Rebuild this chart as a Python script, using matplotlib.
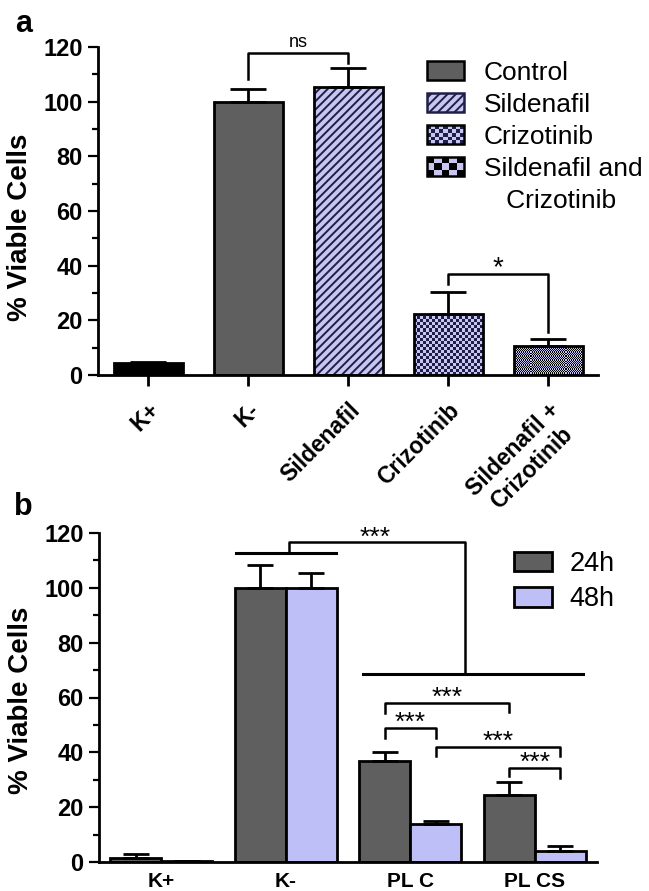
import numpy as np
import matplotlib
matplotlib.use('Agg')
import matplotlib.pyplot as plt
from matplotlib.patches import Patch, Rectangle
from matplotlib.legend_handler import HandlerBase

plt.rcParams['font.family'] = ['Liberation Sans', 'DejaVu Sans']
plt.rcParams['hatch.linewidth'] = 1.4

# ---- panel a data ----
a_labels = ['K+', 'K-', 'Sildenafil', 'Crizotinib', 'Sildenafil +\nCrizotinib']
a_means = [4.5, 100.0, 105.5, 22.5, 10.5]
a_err = [0.4, 4.5, 7.0, 8.0, 2.5]
a_legend = ['Control', 'Sildenafil', 'Crizotinib', 'Sildenafil and\nCrizotinib']
# (x1, x2, top, left foot, right foot, text)
a_brackets = [(1, 2, 117.7, 108.3, 114.0, 'ns'),
              (3, 4, 37.0, 33.3, 15.6, '*')]

# ---- panel b data ----
b_groups = ['K+', 'K-', 'PL C', 'PL CS']
b_24 = [1.5, 100.0, 36.7, 24.6]
b_24_err = [1.3, 8.3, 3.5, 4.7]
b_48 = [0.3, 100.0, 13.8, 4.1]
b_48_err = [0.0, 5.4, 1.2, 1.8]
b_series = ['24h', '48h']
# (bar a, bar b, top, left foot, right foot) ; bar = (group, series)
b_brackets = [((2, 0), (2, 1), 48.9, 45.3, 45.3),
              ((2, 0), (3, 0), 58.1, 54.4, 54.6),
              ((2, 1), (3, 1), 42.1, 38.5, 38.5),
              ((3, 0), (3, 1), 34.4, 31.2, 30.8)]
b_big_left = (0.6, 1.4, 112.8)
b_big_top = (1.03, 2.44, 116.7)
b_big_right = (1.62, 3.39, 68.6)

DARK = '#5f5f5f'
LAV = '#bfbff7'
NAVY = '#1e1e48'
LAV2 = '#c6c6f0'


def checker(ax, bar, cell_px, c1, c2):
    # fill a bar with a checkerboard, clipped to the bar
    x0, y0 = bar.get_x(), bar.get_y()
    x1, y1 = x0 + bar.get_width(), y0 + bar.get_height()
    p0 = ax.transData.transform((x0, y0))
    p1 = ax.transData.transform((x1, y1))
    nx = max(1, int(round(abs(p1[0] - p0[0]) / cell_px)))
    ny = max(1, int(round(abs(p1[1] - p0[1]) / cell_px)))
    grid = (np.add.outer(np.arange(ny), np.arange(nx)) % 2)
    cmap = matplotlib.colors.ListedColormap([c1, c2])
    im = ax.imshow(grid, cmap=cmap, extent=(x0, x1, y0, y1), origin='lower',
                   interpolation='nearest', aspect='auto', zorder=2)
    im.set_clip_path(bar)


class CheckerHandler(HandlerBase):
    def __init__(self, nx, ny, c1, c2):
        super().__init__()
        self.nx, self.ny, self.c1, self.c2 = nx, ny, c1, c2

    def create_artists(self, legend, orig_handle, xdescent, ydescent,
                       width, height, fontsize, trans):
        arts = []
        w = width / self.nx
        h = height / self.ny
        for i in range(self.nx):
            for j in range(self.ny):
                c = self.c1 if (i + j) % 2 == 0 else self.c2
                arts.append(Rectangle((-xdescent + i * w, -ydescent + j * h), w, h,
                                      facecolor=c, edgecolor='none', transform=trans))
        arts.append(Rectangle((-xdescent, -ydescent), width, height, facecolor='none',
                              edgecolor='black', lw=1.8, transform=trans))
        return arts


def style_axes(ax):
    for s in ['top', 'right']:
        ax.spines[s].set_visible(False)
    for s in ['left', 'bottom']:
        ax.spines[s].set_linewidth(2)
    ax.set_ylim(0, 120)
    ax.set_yticks(np.arange(0, 121, 20))
    ax.set_yticks(np.arange(10, 120, 20), minor=True)
    ax.tick_params(axis='y', which='major', length=7, width=1.6, pad=4,
                   labelsize=17)
    ax.tick_params(axis='y', which='minor', length=4.5, width=1.6)
    for t in ax.get_yticklabels():
        t.set_fontweight('bold')
    ax.set_ylabel('% Viable Cells', fontsize=20, fontweight='bold')


fig = plt.figure(figsize=(6.49, 8.91), dpi=100)

# ================= panel a =================
ax = fig.add_axes([98 / 649, 1 - 375 / 891, 500 / 649, 328 / 891])
x = np.arange(len(a_labels))
w = 0.69
bars = ax.bar(x, a_means, width=w, color='none', edgecolor='none', zorder=2)
# individual fills
bars[0].set_facecolor('black')
bars[1].set_facecolor(DARK)
bars[2].set_facecolor(LAV2)
bars[2].set_hatch('////')
bars[2].set_edgecolor(NAVY)
bars[2].set_linewidth(0)
checker(ax, bars[3], 3.0, NAVY, LAV2)
checker(ax, bars[4], 7.0, 'black', LAV2)
ax.bar(x, a_means, width=w, color='none', edgecolor='black', linewidth=2, zorder=3)
ax.errorbar(x, a_means, yerr=[np.zeros(len(a_err)), a_err], fmt='none',
            ecolor='black', elinewidth=2, capsize=13, capthick=2, zorder=4)
ax.set_xlim(-0.5, 4.5)
style_axes(ax)
ax.yaxis.set_label_coords(-0.13, 0.45)
ax.set_xticks(x)
ax.set_xticklabels(a_labels, rotation=45, ha='right', va='top',
                   rotation_mode='anchor', fontsize=16.5, fontweight='bold',
                   multialignment='center')
ax.tick_params(axis='x', length=8, width=2, pad=9)

for x1, x2, top, f1, f2, txt in a_brackets:
    ax.plot([x1, x1, x2, x2], [f1, top, top, f2], color='black', lw=1.8,
            clip_on=False, zorder=5)
    if txt == 'ns':
        ax.text((x1 + x2) / 2, top + 1.0, txt, ha='center', va='bottom',
                fontsize=13, clip_on=False)
    else:
        ax.text((x1 + x2) / 2, top - 2.6, txt, ha='center', va='bottom',
                fontsize=20, clip_on=False)

h_ctrl = Patch(facecolor=DARK, edgecolor='black', lw=1.8)
h_sil = Patch(facecolor=LAV2, edgecolor=NAVY, hatch='////', lw=1.8)
h_cri = Patch(facecolor=LAV2)
h_both = Patch(facecolor=LAV2)
h_none = Patch(facecolor='none', edgecolor='none')
last_first, last_second = a_legend[3].split('\n')
leg_labels = a_legend[:3] + [last_first, '   ' + last_second]
leg = ax.legend([h_ctrl, h_sil, h_cri, h_both, h_none], leg_labels,
                loc='upper left',
                bbox_to_anchor=(427 / 649, 1 - 61 / 891),
                bbox_transform=fig.transFigure, frameon=False, fontsize=19,
                borderpad=0, borderaxespad=0, handlelength=1.4,
                handleheight=0.75, handletextpad=0.75, labelspacing=0.3,
                handler_map={h_cri: CheckerHandler(9, 5, NAVY, LAV2),
                             h_both: CheckerHandler(5, 3, 'black', LAV2)})

fig.text(15 / 649, 1 - 32 / 891, 'a', fontsize=22, fontweight='bold',
         ha='left', va='baseline')

# ================= panel b =================
bx = fig.add_axes([99 / 649, 1 - 862 / 891, 498 / 649, 329 / 891])
g = np.arange(len(b_groups))
bw = 0.41
off = bw / 2
bx.bar(g - off, b_24, width=bw, color=DARK, edgecolor='black', linewidth=2,
       label=b_series[0], zorder=2)
bx.bar(g + off, b_48, width=bw, color=LAV, edgecolor='black', linewidth=2,
       label=b_series[1], zorder=2)
bx.errorbar(g - off, b_24, yerr=[np.zeros(len(b_24)), b_24_err], fmt='none',
            ecolor='black', elinewidth=2, capsize=9.5, capthick=2, zorder=3)
bx.errorbar(g + off, b_48, yerr=[np.zeros(len(b_48)), b_48_err], fmt='none',
            ecolor='black', elinewidth=2, capsize=9.5, capthick=2, zorder=3)
bx.set_xlim(-0.5, 3.5)
style_axes(bx)
bx.yaxis.set_label_coords(-0.13, 0.49)
bx.set_xticks(g)
bx.set_xticklabels(b_groups, fontsize=15, fontweight='bold')
bx.tick_params(axis='x', length=0, pad=7)

for (ga, sa), (gb, sb), top, f1, f2 in b_brackets:
    xa = ga + (sa * 2 - 1) * off
    xb = gb + (sb * 2 - 1) * off
    bx.plot([xa, xa, xb, xb], [f1, top, top, f2], color='black', lw=1.8,
            clip_on=False, zorder=5)
    bx.text((xa + xb) / 2, top - 2.7, '***', ha='center', va='bottom',
            fontsize=19, clip_on=False)

lx0, lx1, ly = b_big_left
bx.plot([lx0, lx1], [ly, ly], color='black', lw=2.2, clip_on=False)
sx0, sx1, sy = b_big_top
rx0, rx1, ry = b_big_right
bx.plot([sx0, sx0, sx1, sx1], [ly, sy, sy, ry], color='black', lw=1.8,
        clip_on=False)
bx.plot([rx0, rx1], [ry, ry], color='black', lw=2.2, clip_on=False)
bx.text(1.72, sy - 2.9, '***', ha='center', va='bottom', fontsize=19,
        clip_on=False)

bx.legend(loc='upper left', bbox_to_anchor=(514 / 649, 1 - 551 / 891),
          bbox_transform=fig.transFigure, frameon=False, fontsize=19.5,
          borderpad=0, borderaxespad=0, handlelength=1.4, handleheight=0.75,
          handletextpad=0.65, labelspacing=0.35)

fig.text(14 / 649, 1 - 515 / 891, 'b', fontsize=22, fontweight='bold',
         ha='left', va='baseline')

fig.savefig('out.png', dpi=100)
